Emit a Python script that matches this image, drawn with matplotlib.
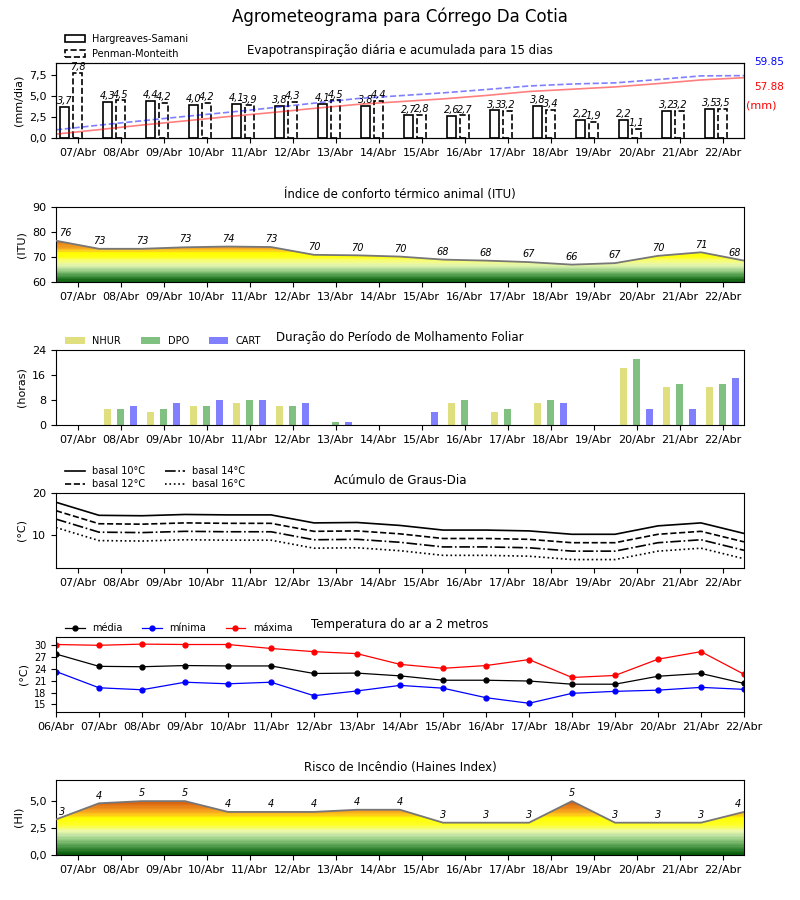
import numpy as np
import matplotlib
matplotlib.use('Agg')
import matplotlib.pyplot as plt
from matplotlib.colors import LinearSegmentedColormap
from matplotlib.patches import Patch
from matplotlib.ticker import FuncFormatter

# ---- dados ----
dias = ['06/Abr', '07/Abr', '08/Abr', '09/Abr', '10/Abr', '11/Abr', '12/Abr', '13/Abr', '14/Abr',
        '15/Abr', '16/Abr', '17/Abr', '18/Abr', '19/Abr', '20/Abr', '21/Abr', '22/Abr']

et_hs = [3.7, 4.3, 4.4, 4.0, 4.1, 3.8, 4.1, 3.8, 2.7, 2.6, 3.3, 3.8, 2.2, 2.2, 3.2, 3.5]
et_pm = [7.8, 4.5, 4.2, 4.2, 3.9, 4.3, 4.5, 4.4, 2.8, 2.7, 3.2, 3.4, 1.9, 1.1, 3.2, 3.5]
acum_hs = [3.7, 8.0, 12.4, 16.4, 20.5, 24.3, 28.4, 32.2, 34.9, 37.5, 40.8, 44.6, 46.8, 49.0, 52.2, 55.7, 57.88]
acum_pm = [7.8, 12.3, 16.5, 20.7, 24.6, 28.9, 33.4, 37.8, 40.6, 43.3, 46.5, 49.9, 51.8, 52.9, 56.1, 59.6, 59.85]

itu = [76.4, 73.2, 73.2, 73.8, 74.1, 73.9, 70.8, 70.6, 70.1, 68.9, 68.5, 67.9, 66.9, 67.5, 70.4, 71.8, 68.5]

nhur = [0, 5, 4, 6, 7, 6, 0, 0, 0, 7, 4, 7, 0, 18, 12, 12]
dpo = [0, 5, 5, 6, 8, 6, 1, 0, 0, 8, 5, 8, 0, 21, 13, 13]
cart = [0, 6, 7, 8, 8, 7, 1, 0, 4, 0, 0, 7, 0, 5, 5, 15]

gd10 = [17.7, 14.6, 14.5, 14.8, 14.7, 14.7, 12.8, 12.9, 12.2, 11.1, 11.1, 10.9, 10.1, 10.1, 12.1, 12.8, 10.3]
gd12 = [15.7, 12.6, 12.5, 12.8, 12.7, 12.7, 10.8, 10.9, 10.2, 9.1, 9.1, 8.9, 8.1, 8.1, 10.1, 10.8, 8.3]
gd14 = [13.7, 10.6, 10.5, 10.8, 10.7, 10.7, 8.8, 8.9, 8.2, 7.1, 7.1, 6.9, 6.1, 6.1, 8.1, 8.8, 6.3]
gd16 = [11.7, 8.6, 8.5, 8.8, 8.7, 8.7, 6.8, 6.9, 6.2, 5.1, 5.1, 4.9, 4.1, 4.1, 6.1, 6.8, 4.3]

t_med = [27.7, 24.6, 24.5, 24.8, 24.7, 24.7, 22.8, 22.9, 22.2, 21.1, 21.1, 20.9, 20.1, 20.1, 22.1, 22.8, 20.3]
t_min = [23.3, 19.2, 18.7, 20.6, 20.2, 20.6, 17.2, 18.4, 19.8, 19.1, 16.7, 15.3, 17.8, 18.3, 18.6, 19.3, 18.8]
t_max = [30.1, 29.9, 30.2, 30.1, 30.1, 29.1, 28.3, 27.8, 25.1, 24.1, 24.8, 26.3, 21.8, 22.3, 26.4, 28.3, 22.6]

haines = [3.3, 4.8, 5.0, 5.0, 4.0, 4.0, 4.0, 4.2, 4.2, 3.0, 3.0, 3.0, 5.0, 3.0, 3.0, 3.0, 4.0]

x_pts = np.arange(len(dias))
x_dia = np.arange(len(et_hs)) + 0.5

cmap_itu = LinearSegmentedColormap.from_list('itu', [
    (0.0, '#0b5e0b'), (0.111, '#3f8f3f'), (0.222, '#8ac47a'), (0.306, '#c5e6a5'),
    (0.389, '#eaf8a8'), (0.472, '#f8fd70'), (0.556, '#ffff10'), (0.65, '#ffff00'),
    (0.69, '#fcd020'), (0.75, '#f4a624'), (0.85, '#ea8a1c'), (0.944, '#d86010'),
    (1.0, '#c85000')], N=36)
cmap_hi = LinearSegmentedColormap.from_list('hi', [
    (0.0, '#0b5e0b'), (0.11, '#3f8f3f'), (0.236, '#8ac47a'), (0.327, '#c5e6a5'),
    (0.4, '#eefaaa'), (0.49, '#ffff30'), (0.62, '#ffff00'), (0.68, '#ffc81a'),
    (0.76, '#f39a20'), (0.9, '#d86010'), (1.0, '#c85000')], N=44)

vir = FuncFormatter(lambda v, p: ('%.1f' % v).replace('.', ','))


def preencher_gradiente(ax, x, y, cmap, vmin, vmax, y0, ytop):
    poly = ax.fill_between(x, y0, y, color='none', lw=0)
    caminho = poly.get_paths()[0]
    grad = np.linspace(y0, ytop, 300).reshape(-1, 1)
    im = ax.imshow(grad, extent=[x[0], x[-1], y0, ytop], origin='lower', aspect='auto',
                   cmap=cmap, vmin=vmin, vmax=vmax, interpolation='nearest', zorder=1)
    im.set_clip_path(caminho, transform=ax.transData)
    ax.plot(x, y, color='#777777', lw=1.3, zorder=3)


def rotulos(ax, x, y, txt):
    n = len(x)
    for i in range(n):
        ha = 'center'
        dx = 0
        if i == 0:
            ha, dx = 'left', 2
        elif i == n - 1:
            ha, dx = 'right', -2
        ax.annotate(txt[i], (x[i], y[i]), xytext=(dx, 2), textcoords='offset points',
                    ha=ha, va='bottom', fontsize=7, style='italic', zorder=4)


def eixo_x(ax, meio=True):
    ax.set_xlim(0, 16)
    if meio:
        ax.set_xticks(x_dia)
        ax.set_xticklabels(dias[1:], fontsize=8)
    else:
        ax.set_xticks(x_pts)
        ax.set_xticklabels(dias, fontsize=8)


fig = plt.figure(figsize=(8, 9), dpi=100)
fig.suptitle('Agrometeograma para Córrego Da Cotia', fontsize=12, y=0.992)

L, W, H = 0.07, 0.86, 0.0838
ax1 = fig.add_axes([L, 0.8467, W, H])
ax2 = fig.add_axes([L, 0.6867, W, H])
ax3 = fig.add_axes([L, 0.5278, W, H])
ax4 = fig.add_axes([L, 0.3689, W, H])
ax5 = fig.add_axes([L, 0.2089, W, H])
ax6 = fig.add_axes([L, 0.0500, W, H])

leg_kw = dict(loc='lower left', bbox_to_anchor=(0.005, 0.97), frameon=False, fontsize=7,
              borderaxespad=0.2)

# ---- evapotranspiração ----
ax1.bar(x_dia - 0.3, et_hs, width=0.21, facecolor='white', edgecolor='black', lw=1.2)
ax1.bar(x_dia, et_pm, width=0.21, facecolor='white', edgecolor='black', lw=1.2, linestyle='--')
for xs, vals in ((x_dia - 0.3, et_hs), (x_dia, et_pm)):
    for xi, v in zip(xs, vals):
        ax1.text(xi, v + 0.1, ('%.1f' % v).replace('.', ','), ha='center', va='bottom',
                 fontsize=7, style='italic')
eixo_x(ax1)
ax1.set_ylim(0, 9.05)
ax1.set_yticks([0, 2.5, 5, 7.5])
ax1.yaxis.set_major_formatter(vir)
ax1.tick_params(axis='y', labelsize=8)
ax1.set_ylabel('(mm/dia)', fontsize=8)
ax1.set_title('Evapotranspiração diária e acumulada para 15 dias', fontsize=8.5)
ax1b = ax1.twinx()
ax1b.plot(x_pts, acum_pm, color='blue', ls='--', lw=1.2, alpha=0.5)
ax1b.plot(x_pts, acum_hs, color='red', lw=1.2, alpha=0.5)
ax1b.set_ylim(0, 72.4)
ax1b.set_yticks([])
ax1b.set_xlim(0, 16)
fig.text(0.962, 0.931, '%.2f' % acum_pm[-1], color='blue', fontsize=7.5, ha='center', va='center')
fig.text(0.962, 0.903, '%.2f' % acum_hs[-1], color='red', fontsize=7.5, ha='center', va='center')
fig.text(0.951, 0.883, '(mm)', color='red', fontsize=8, ha='center', va='center')
ax1.legend([Patch(facecolor='white', edgecolor='black', lw=1.2),
            Patch(facecolor='white', edgecolor='black', lw=1.2, linestyle='--')],
           ['Hargreaves-Samani', 'Penman-Monteith'], **leg_kw)

# ---- ITU ----
preencher_gradiente(ax2, x_pts, itu, cmap_itu, 60, 78, 60, 90)
rotulos(ax2, x_pts, itu, [str(int(v)) for v in itu])
eixo_x(ax2)
ax2.set_ylim(60, 90)
ax2.set_yticks([60, 70, 80, 90])
ax2.tick_params(axis='y', labelsize=8)
ax2.set_ylabel('(ITU)', fontsize=8)
ax2.set_title('Índice de conforto térmico animal (ITU)', fontsize=8.5)

# ---- molhamento foliar ----
ax3.bar(x_dia - 0.3, nhur, width=0.16, color='#dfdf80', label='NHUR')
ax3.bar(x_dia, dpo, width=0.16, color='#80c080', label='DPO')
ax3.bar(x_dia + 0.3, cart, width=0.16, color='#8080ff', label='CART')
eixo_x(ax3)
ax3.set_ylim(0, 24)
ax3.set_yticks([0, 8, 16, 24])
ax3.tick_params(axis='y', labelsize=8)
ax3.set_ylabel('(horas)', fontsize=8)
ax3.set_title('Duração do Período de Molhamento Foliar', fontsize=8.5)
ax3.legend(ncol=3, columnspacing=2.0, **leg_kw)

# ---- graus-dia ----
ax4.plot(x_pts, gd10, color='black', ls='-', lw=1.2, label='basal 10°C')
ax4.plot(x_pts, gd12, color='black', ls='--', lw=1.2, label='basal 12°C')
ax4.plot(x_pts, gd14, color='black', ls='-.', lw=1.2, label='basal 14°C')
ax4.plot(x_pts, gd16, color='black', ls=':', lw=1.2, label='basal 16°C')
eixo_x(ax4)
ax4.set_ylim(2.1, 20)
ax4.set_yticks([10, 20])
ax4.tick_params(axis='y', labelsize=8)
ax4.set_ylabel('(°C)', fontsize=8)
ax4.set_title('Acúmulo de Graus-Dia', fontsize=8.5)
ax4.legend(ncol=2, labelspacing=0.3, **leg_kw)

# ---- temperatura ----
ax5.plot(x_pts, t_med, color='black', marker='o', ms=3.5, lw=0.9, label='média')
ax5.plot(x_pts, t_min, color='blue', marker='o', ms=3.5, lw=0.9, label='mínima')
ax5.plot(x_pts, t_max, color='red', marker='o', ms=3.5, lw=0.9, label='máxima')
eixo_x(ax5, meio=False)
ax5.set_ylim(13.1, 32.1)
ax5.set_yticks([15, 18, 21, 24, 27, 30])
ax5.tick_params(axis='y', labelsize=7)
ax5.set_ylabel('(°C)', fontsize=8)
ax5.set_title('Temperatura do ar a 2 metros', fontsize=8.5)
ax5.legend(ncol=3, columnspacing=2.0, **leg_kw)

# ---- haines ----
preencher_gradiente(ax6, x_pts, haines, cmap_hi, 0, 5.5, 0, 7)
rotulos(ax6, x_pts, haines, [str(int(v)) for v in haines])
eixo_x(ax6)
ax6.set_ylim(0, 7)
ax6.set_yticks([0, 2.5, 5])
ax6.yaxis.set_major_formatter(vir)
ax6.tick_params(axis='y', labelsize=8)
ax6.set_ylabel('(HI)', fontsize=8)
ax6.set_title('Risco de Incêndio (Haines Index)', fontsize=8.5)

plt.savefig('out.png', dpi=100)
